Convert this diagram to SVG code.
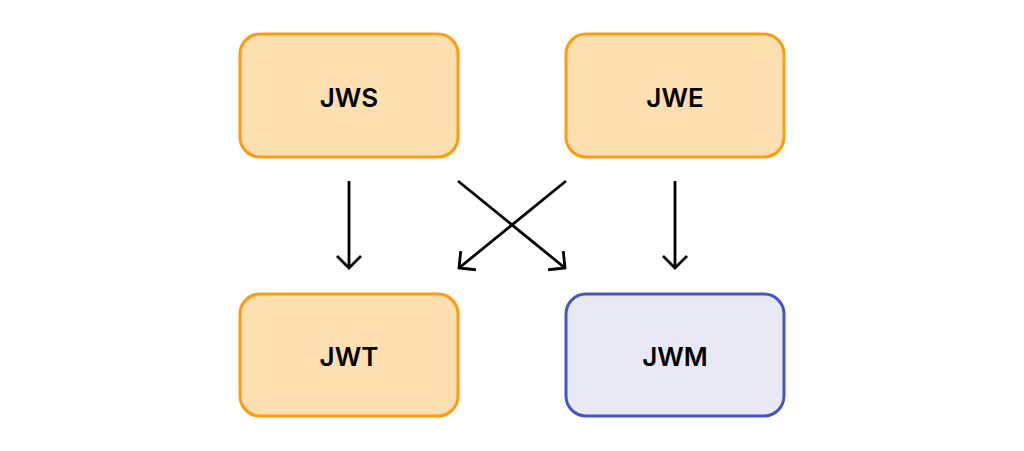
<svg xmlns="http://www.w3.org/2000/svg" width="1024" height="451" viewBox="0 0 1024 451">
<defs>
<style>
.o rect{fill:#FEDFB0;stroke:#FF9B0F;stroke-width:3}
.b rect{fill:#E8E9F4;stroke:#4556BD;stroke-width:3}
text{font-family:Inter,"Liberation Sans",sans-serif;font-weight:600;font-size:26px;fill:#000;text-anchor:middle;dominant-baseline:central}
.c line{stroke:#000;stroke-width:2.8;fill:none;marker-end:url(#ah)}
</style>
<marker id="ah" markerUnits="userSpaceOnUse" viewBox="-20 -14 22 28" markerWidth="22" markerHeight="28" refX="0" refY="0" orient="auto">
<path d="M-12,-12 L0,0 L-12,12" fill="none" stroke="#000" stroke-width="2.8"/>
</marker>
</defs>
<rect width="1024" height="451" fill="#fff"/>
<g id="jws" class="o"><rect x="240" y="34" width="218" height="123" rx="20"/><text x="349" y="97">JWS</text></g>
<g id="jwe" class="o"><rect x="566" y="34" width="218" height="123" rx="20"/><text x="675" y="97">JWE</text></g>
<g id="jwt" class="o"><rect x="240" y="294" width="218" height="122" rx="20"/><text x="349" y="356">JWT</text></g>
<g id="jwm" class="b"><rect x="566" y="294" width="218" height="122" rx="20"/><text x="675" y="356">JWM</text></g>
<g id="connectors" class="c">
<line x1="349" y1="181" x2="349" y2="268"/>
<line x1="675" y1="181" x2="675" y2="268"/>
<line x1="458" y1="181" x2="565" y2="268"/>
<line x1="566" y1="181" x2="459" y2="268"/>
</g>
</svg>
